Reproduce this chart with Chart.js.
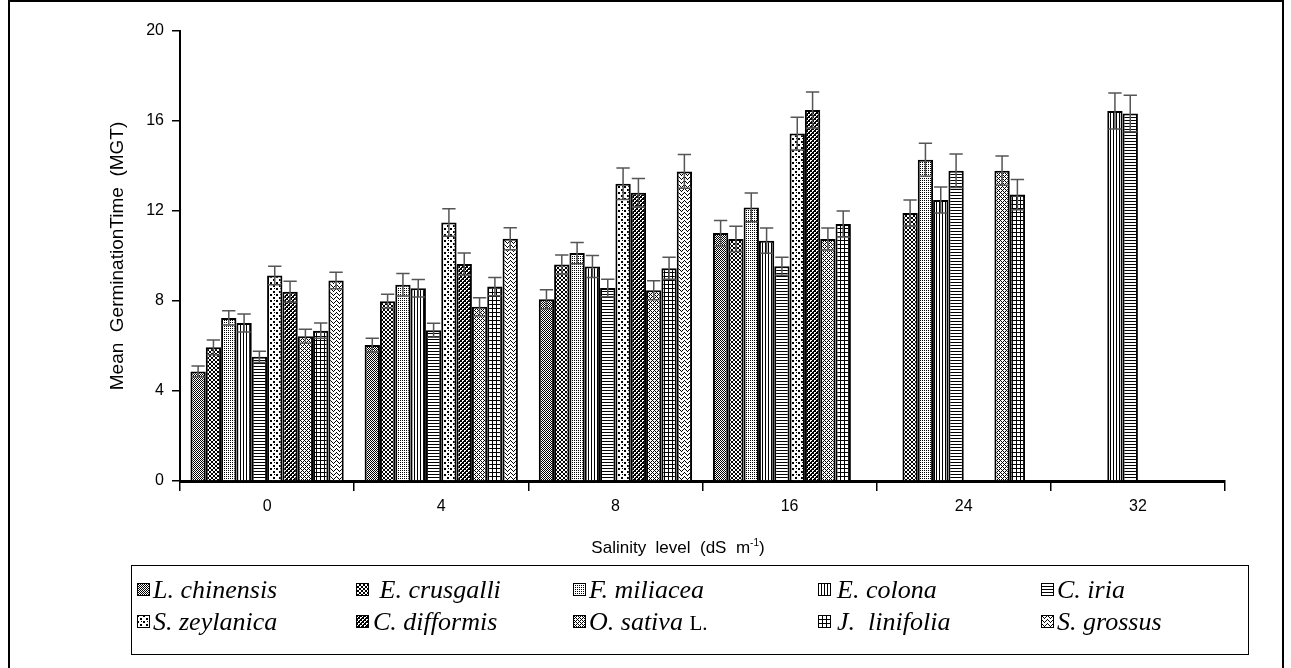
<!DOCTYPE html>
<html>
<head>
<meta charset="utf-8">
<script src="https://cdn.jsdelivr.net/npm/chart.js@4.4.0/dist/chart.umd.min.js"></script>
<style>
body{margin:0;background:#fff;width:1291px;height:668px;overflow:hidden;position:relative}
#frame{position:absolute;left:8px;top:0;width:1276px;height:720px;border:2px solid #000;box-sizing:border-box}
#wrap{position:absolute;left:0;top:0;width:1291px;height:668px}
#xtitle{position:absolute;top:537px;left:528px;width:300px;text-align:center;white-space:pre;font:17px 'Liberation Sans Narrow','Liberation Sans',Arial,sans-serif;color:#000}
#xtitle sup{font-size:10px}
#legend{position:absolute;left:131px;top:565px;width:1118px;height:90px;border:1.5px solid #000;box-sizing:border-box}
.ico{position:absolute;width:13px;height:13px}
.lbl{position:absolute;font:italic 26px 'Liberation Serif','Times New Roman',serif;color:#000;white-space:pre;line-height:26px}
.lbl span{font-style:normal;font-size:21px}
</style>
</head>
<body>
<div id="frame"></div>
<div id="wrap"><canvas id="myChart" width="1291" height="668"></canvas></div>
<div id="xtitle">Salinity  level  (dS  m<sup>-1</sup>)</div>
<div id="legend"></div>
<script>
// salinity levels (dS m-1)
const salinity = ['0', '4', '8', '16', '24', '32'];
const yTicks = [0, 4, 8, 12, 16, 20];
const species = ['L. chinensis', 'E. crusgalli', 'F. miliacea', 'E. colona', 'C. iria',
                 'S. zeylanica', 'C. difformis', 'O. sativa L.', 'J.  linifolia', 'S. grossus'];

// mean germination time per species, and the error bars
const lChinensis  = [4.87, 6.04, 8.08, 11.02, null, null];
const eCrusgalli  = [5.94, 7.99, 9.62, 10.76, 11.91, null];
const fMiliacea   = [7.25, 8.72, 10.13, 12.16, 14.28, null];
const eColona     = [7.02, 8.57, 9.53, 10.68, 12.49, 16.44];
const cIria       = [5.52, 6.70, 8.58, 9.55, 13.79, 16.33];
const sZeylanica  = [9.13, 11.49, 13.21, 15.44, null, null];
const cDifformis  = [8.41, 9.64, 12.81, 16.49, null, null];
const oSativa     = [6.43, 7.74, 8.48, 10.76, 13.79, null];
const jLinifolia  = [6.68, 8.64, 9.46, 11.42, 12.73, null];
const sGrossus    = [8.91, 10.77, 13.76, null, null, null];

const lChinensisErr = [0.24, 0.31, 0.42, 0.56, null, null];
const eCrusgalliErr = [0.33, 0.31, 0.42, 0.56, 0.58, null];
const fMiliaceaErr  = [0.32, 0.50, 0.47, 0.64, 0.73, null];
const eColonaErr    = [0.40, 0.39, 0.49, 0.56, 0.58, 0.80];
const cIriaErr      = [0.25, 0.31, 0.39, 0.40, 0.74, 0.81];
const sZeylanicaErr = [0.41, 0.61, 0.70, 0.73, null, null];
const cDifformisErr = [0.47, 0.49, 0.63, 0.80, null, null];
const oSativaErr    = [0.31, 0.40, 0.42, 0.49, 0.65, null];
const jLinifoliaErr = [0.34, 0.41, 0.49, 0.58, 0.67, null];
const sGrossusErr   = [0.37, 0.49, 0.75, null, null, null];

const allData = [lChinensis, eCrusgalli, fMiliacea, eColona, cIria, sZeylanica, cDifformis, oSativa, jLinifolia, sGrossus];
const allErr = [lChinensisErr, eCrusgalliErr, fMiliaceaErr, eColonaErr, cIriaErr, sZeylanicaErr, cDifformisErr, oSativaErr, jLinifoliaErr, sGrossusErr];

// black and white fill patterns, one per species
function tile(w, h, black){
  var c = document.createElement('canvas');
  c.width = w; c.height = h;
  var g = c.getContext('2d');
  g.fillStyle = '#fff'; g.fillRect(0, 0, w, h);
  g.fillStyle = '#000';
  for (var y = 0; y < h; y++)
    for (var x = 0; x < w; x++)
      if (black(x, y)) g.fillRect(x, y, 1, 1);
  return c;
}
const ring = ['.XX.', 'X..X', 'X..X', '.XX.'];
const tiles = [
  tile(2, 2, (x, y) => (x + y) % 2 == 0),                                   // checker
  tile(4, 4, (x, y) => ring[y][x] == 'X'),                                  // rings
  tile(2, 2, (x, y) => x == 0 && y == 0),                                   // fine dots
  tile(3, 1, (x, y) => x == 0),                                             // vertical
  tile(1, 3, (x, y) => y == 0),                                             // horizontal
  tile(6, 6, (x, y) => (x < 2 && y < 2) || (x >= 3 && x < 5 && y >= 3 && y < 5) || (x == 4 && y == 0)),
  tile(4, 4, (x, y) => (x + y) % 4 < 2 || (x - y + 8) % 4 == 0),             // dark hatch
  tile(4, 4, (x, y) => (x + y) % 4 == 0 || (x - y + 8) % 4 == 0),            // diamond
  tile(4, 4, (x, y) => x == 0 || y == 0),                                   // grid
  tile(6, 4, (x, y) => (y == 0 && x == 0) || (y == 1 && (x == 1 || x == 5)) || (y == 2 && (x == 2 || x == 4)) || (y == 3 && x == 3))
];

const ctx = document.getElementById('myChart').getContext('2d');
const patterns = tiles.map(t => ctx.createPattern(t, 'repeat'));

const errorBars = {
  id: 'errorBars',
  afterDatasetsDraw(chart){
    const c = chart.ctx, ys = chart.scales.y;
    chart.data.datasets.forEach(function(ds, i){
      chart.getDatasetMeta(i).data.forEach(function(bar, j){
        var v = ds.data[j], e = ds.errors[j];
        if (v == null || e == null) return;
        var top = ys.getPixelForValue(v + e), bot = ys.getPixelForValue(v - e);
        var hw = bar.width / 2 - 1;
        c.save();
        c.strokeStyle = '#555'; c.lineWidth = 1.5;
        c.beginPath();
        c.moveTo(bar.x, top); c.lineTo(bar.x, bot);
        c.moveTo(bar.x - hw, top); c.lineTo(bar.x + hw, top);
        c.moveTo(bar.x - hw, bot); c.lineTo(bar.x + hw, bot);
        c.stroke();
        c.restore();
      });
    });
  }
};

const font = {family: "'Liberation Sans Narrow','Liberation Sans',Arial,sans-serif", size: 16};

new Chart(ctx, {
  type: 'bar',
  data: {
    labels: salinity,
    datasets: species.map(function(name, i){
      return {
        label: name,
        data: allData[i],
        errors: allErr[i],
        backgroundColor: patterns[i],
        borderColor: '#000',
        borderWidth: 2,
        categoryPercentage: 0.88,
        barPercentage: 1.0
      };
    })
  },
  options: {
    responsive: false,
    animation: false,
    layout: {padding: {left: 106, top: 31, right: 66, bottom: 147}},
    plugins: {legend: {display: false}, tooltip: {enabled: false}},
    scales: {
      x: {
        grid: {display: true, drawOnChartArea: false, drawTicks: true, tickLength: 10, color: '#000', lineWidth: 1.5, offset: true},
        border: {display: true, color: '#000', width: 3},
        ticks: {color: '#000', font: font, padding: 6},
        afterFit: function(s){ s.height = 40; }
      },
      y: {
        min: 0, max: 20,
        afterBuildTicks: function(s){ s.ticks = yTicks.map(v => ({value: v})); },
        grid: {display: true, drawOnChartArea: false, drawTicks: true, tickLength: 8, color: '#000', lineWidth: 1.5},
        border: {display: true, color: '#000', width: 2},
        ticks: {color: '#000', font: font, padding: 8},
        title: {display: true, text: 'Mean  GerminationTime  (MGT)', color: '#000', font: {family: font.family, size: 19}, padding: {top: 0, bottom: 0}},
        afterFit: function(s){ s.width = 180 - 106; }
      }
    }
  },
  plugins: [errorBars]
});

// legend, two rows of five
const legend = document.getElementById('legend');
const iconX = [5, 224, 441, 686, 909];
const textX = [21, 241, 457, 705, 925];
const rowY = [11, 43];
species.forEach(function(name, i){
  var r = Math.floor(i / 5), col = i % 5;
  var ic = document.createElement('canvas');
  ic.width = 13; ic.height = 13; ic.className = 'ico';
  ic.style.left = iconX[col] + 'px'; ic.style.top = (rowY[r] + 6) + 'px';
  var g = ic.getContext('2d');
  g.fillStyle = g.createPattern(tiles[i], 'repeat'); g.fillRect(0, 0, 13, 13);
  g.strokeStyle = '#000'; g.lineWidth = 1; g.strokeRect(0.5, 0.5, 12, 12);
  legend.appendChild(ic);
  var t = document.createElement('div');
  t.className = 'lbl';
  t.style.left = textX[col] + 'px'; t.style.top = rowY[r] + 'px';
  if (name.endsWith(' L.')) {
    t.textContent = name.slice(0, -2);
    var s = document.createElement('span'); s.textContent = 'L.'; t.appendChild(s);
  } else {
    t.textContent = (col == 1 && r == 0 ? ' ' : '') + name;
  }
  legend.appendChild(t);
});
</script>
</body>
</html>
